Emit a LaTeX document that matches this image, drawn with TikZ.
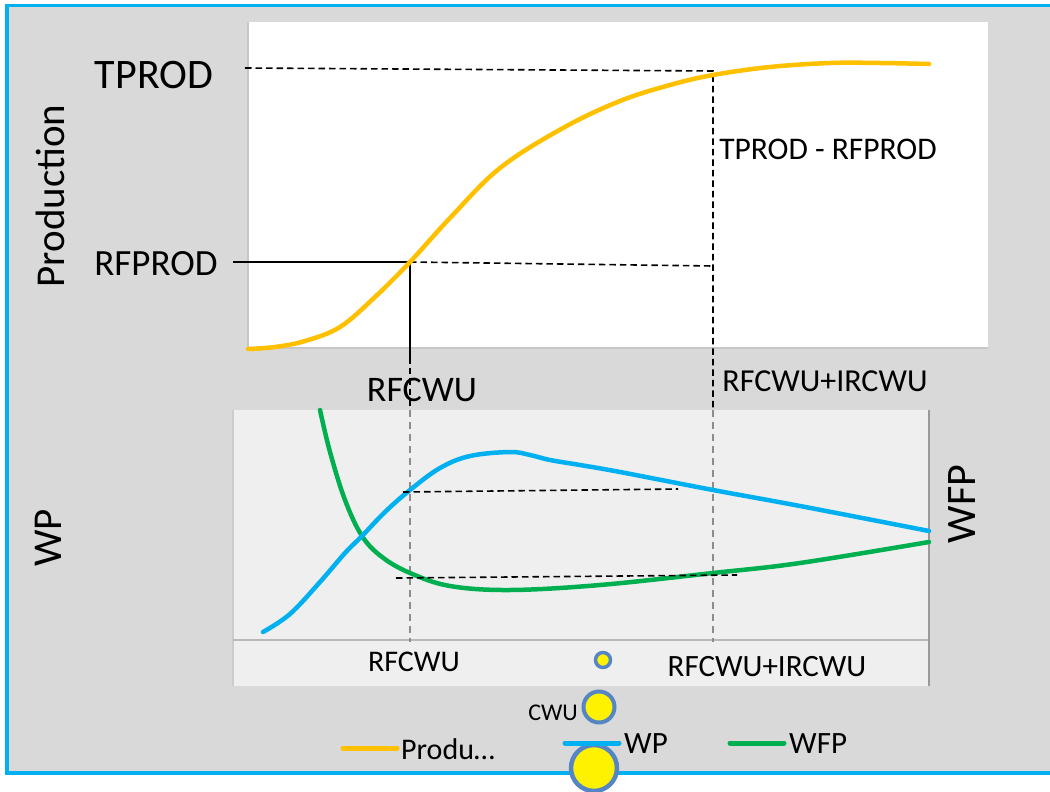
\documentclass[tikz,border=0pt]{standalone}
\usepackage{fontspec}
\setmainfont{Carlito}
\begin{document}
\begin{tikzpicture}[x=1pt,y=-1pt,
  lbl/.style={inner sep=0pt, text=black},
  blkdash/.style={black, line width=1.6pt, dash pattern=on 6.5pt off 4pt},
  grydash/.style={black!45, line width=1.5pt, dash pattern=on 7pt off 5pt},
  curve/.style={line width=4.5pt, line cap=round, line join=round},
  bubble/.style={circle, draw=bubbleblue, fill=yellow, inner sep=0pt},
  legline/.style={line width=5pt, line cap=round}]
\definecolor{bg}{HTML}{D9D9D9}
\definecolor{frameblue}{HTML}{00B0F0}
\definecolor{orng}{HTML}{FFC000}
\definecolor{wpblue}{HTML}{00B0F0}
\definecolor{wfpgreen}{HTML}{00B050}
\definecolor{bubbleblue}{HTML}{5585C5}
\definecolor{lowbg}{HTML}{EFEFEF}
\useasboundingbox (0,0) rectangle (1050,792);
\fill[white] (0,0) rectangle (1050,792);
\begin{scope}
\clip (0,0) rectangle (1050,792);
\filldraw[fill=bg, draw=frameblue, line width=3.5pt] (7,5.5) rectangle (1070,773);
\end{scope}
% upper plot area
\fill[white] (248,22) rectangle (988,348);
\draw[black!22, line width=1.2pt] (248,22) -- (248,348) -- (988,348);
% lower plot area
\fill[lowbg] (233,410) rectangle (929,686);
\draw[black!20, line width=1.2pt] (233,410) -- (233,686);
\draw[black!28, line width=1.2pt] (233,640) -- (929,640);
\draw[black!40, line width=1.5pt] (929,410) -- (929,686);

% coordinates
\coordinate (tpl) at (245,68);
\coordinate (tpr) at (713,71);
\coordinate (rfl) at (233,262);
\coordinate (rfx) at (410,262);
\coordinate (rfr) at (713,266);
\coordinate (rfd) at (410,357);
\coordinate (rfb) at (410,410);
\coordinate (rfe) at (410,642);
\coordinate (irb) at (713,410);
\coordinate (ire) at (713,642);
\coordinate (wpl) at (403,492);
\coordinate (wpr) at (678,489);
\coordinate (wfl) at (396,578);
\coordinate (wfr) at (737,575);

% guide lines
\draw[blkdash] (tpl) -- (tpr) -- (irb);
\draw[blkdash] (rfx) -- (rfr);
\draw[black, line width=1.5pt] (rfl) -- (rfx) -- (rfd);
\draw[blkdash] (rfd) -- (rfb);
\draw[grydash] (rfb) -- (rfe);
\draw[grydash] (irb) -- (ire);

% curves
\draw[curve, orng] plot[smooth, tension=0.6] coordinates {(248,349) (275,347) (305,341) (340,327) (375,297) (410,262) (450,218) (500,168) (563,128) (620,101) (670,85) (713,75) (770,67) (830,63) (880,63) (929,64)};
\draw[curve, wfpgreen] plot[smooth, tension=0.6] coordinates {(320,410) (330,452) (345,500) (362,536) (382,557) (410,573) (450,586) (510,590) (600,585) (713,573) (800,563) (929,542)};
\draw[curve, wpblue] plot[smooth, tension=0.6] coordinates {(263,632) (290,614) (320,582) (345,553) (362,536) (385,512) (410,490) (440,468) (470,456) (510,452) (530,455) (550,460) (580,465) (620,472) (713,490) (800,506) (929,531)};

\draw[blkdash] (wpl) -- (wpr);
\draw[blkdash] (wfl) -- (wfr);

% labels
\node[lbl, font=\fontsize{42}{42}\selectfont] (tprod) at (154,75) {TPROD};
\node[lbl, font=\fontsize{37}{37}\selectfont] (rfprod) at (156,264) {RFPROD};
\node[lbl, font=\fontsize{41}{41}\selectfont, rotate=90] (prodax) at (50,196) {Production};
\node[lbl, font=\fontsize{31.5}{31.5}\selectfont] (diff) at (828,149) {TPROD - RFPROD};
\node[lbl, font=\fontsize{36}{36}\selectfont] (rfcwu1) at (422,390) {RFCWU};
\node[lbl, font=\fontsize{32}{32}\selectfont] (ircwu1) at (825,381) {RFCWU+IRCWU};
\node[lbl, font=\fontsize{41}{41}\selectfont, rotate=90] (wpax) at (48,538) {WP};
\node[lbl, font=\fontsize{42}{42}\selectfont, rotate=90] (wfpax) at (962,504) {WFP};
\node[lbl, font=\fontsize{30}{30}\selectfont] (rfcwu2) at (414,662) {RFCWU};
\node[lbl, font=\fontsize{31}{31}\selectfont] (ircwu2) at (767,667) {RFCWU+IRCWU};

% bubbles
\node[bubble, line width=3.5pt, minimum size=15pt] (b1) at (603,660) {};
\node[bubble, line width=4pt, minimum size=31pt] (b2) at (599,707) {};
\node[bubble, line width=4.5pt, minimum size=46pt] (b3) at (594,768) {};
\node[lbl, font=\fontsize{24}{24}\selectfont, anchor=east] (cwu) at (578,713) {CWU};

% legend
\coordinate (lo1) at (343,748); \coordinate (lo2) at (397,748);
\coordinate (lb1) at (565,743); \coordinate (lb2) at (619,743);
\coordinate (lg1) at (730,743); \coordinate (lg2) at (784,743);
\draw[legline, orng] (lo1) -- (lo2);
\draw[legline, wpblue] (lb1) -- (lb2);
\draw[legline, wfpgreen] (lg1) -- (lg2);
\node[lbl, font=\fontsize{30}{30}\selectfont, anchor=west] (lgo) at (401,749) {Produ…};
\node[lbl, font=\fontsize{31}{31}\selectfont, anchor=west] (lgb) at (624,744) {WP};
\node[lbl, font=\fontsize{31}{31}\selectfont, anchor=west] (lgg) at (789,744) {WFP};
\end{tikzpicture}
\end{document}
